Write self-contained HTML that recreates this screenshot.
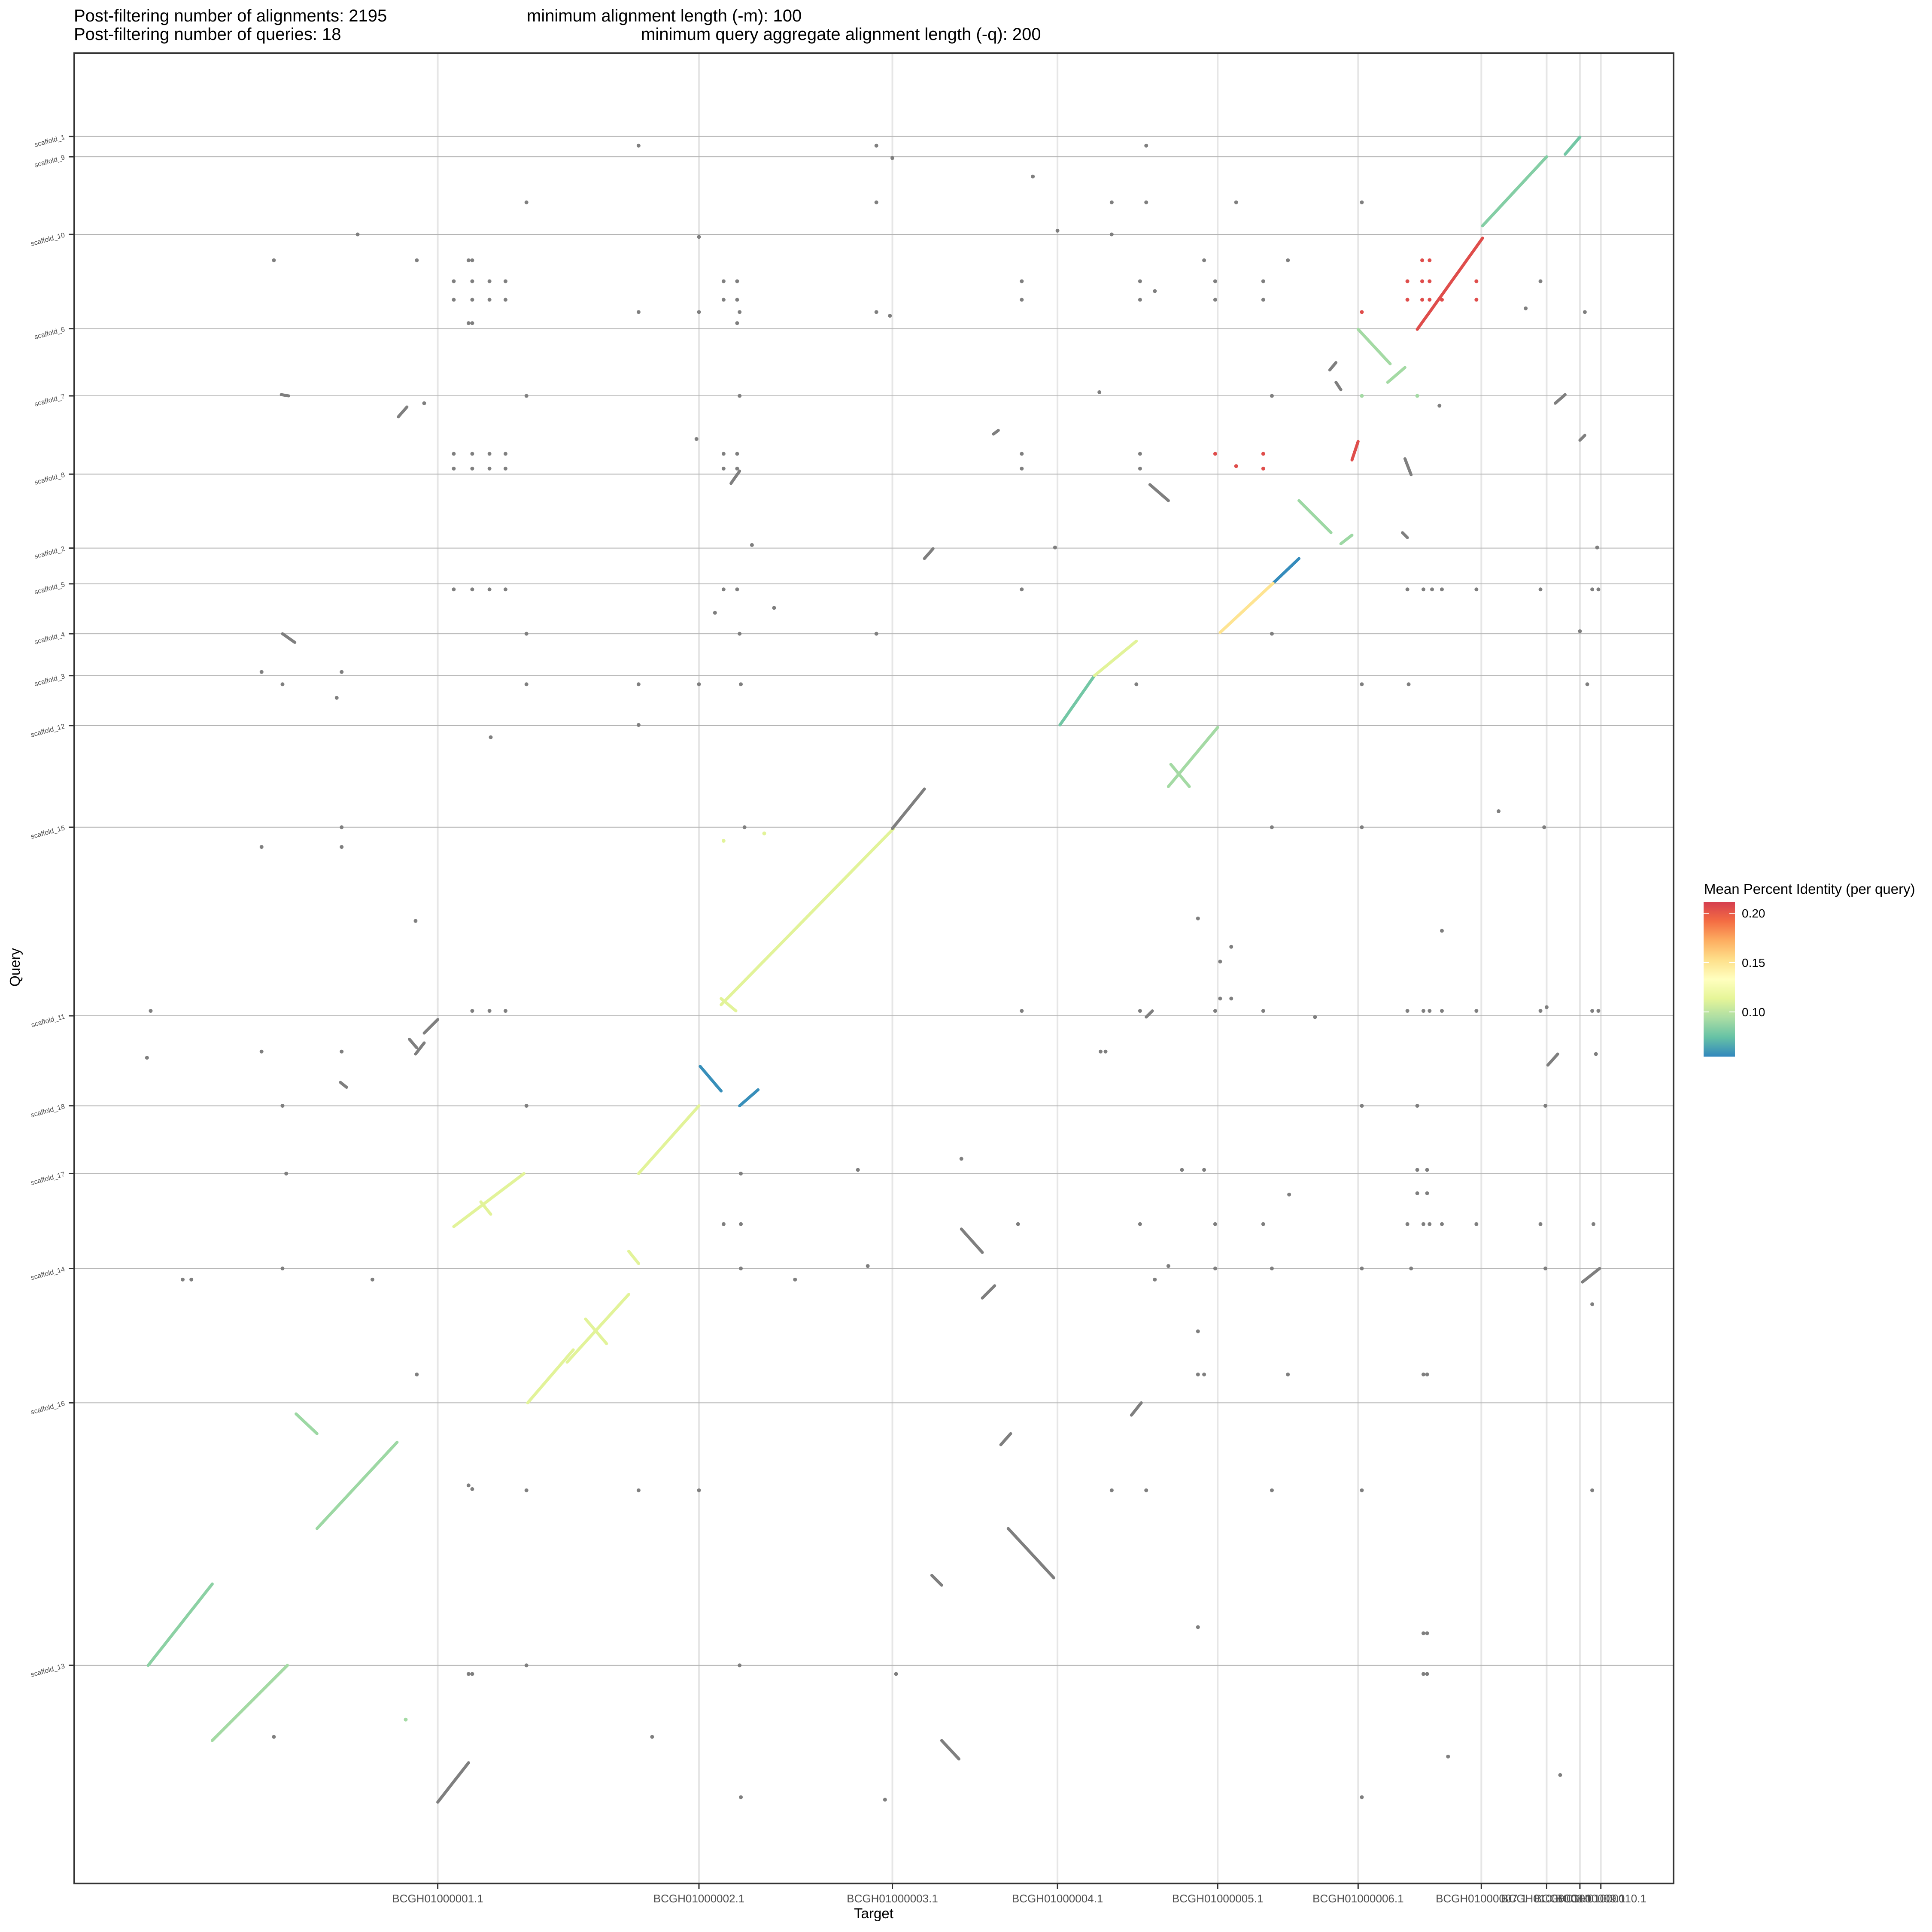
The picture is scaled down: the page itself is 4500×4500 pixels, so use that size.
<!DOCTYPE html>
<html><head><meta charset="utf-8"><style>
html,body{margin:0;padding:0;background:#fff;}
svg{display:block;font-family:"Liberation Sans",sans-serif;}
</style></head><body>
<svg id="chart" xmlns="http://www.w3.org/2000/svg" width="4500" height="4500" viewBox="0 0 4500 4500">
<rect width="4500" height="4500" fill="#fff"/>
<text x="172" y="50" font-size="40" fill="#000">Post-filtering number of alignments: 2195</text>
<text x="172" y="93" font-size="40" fill="#000">Post-filtering number of queries: 18</text>
<text x="1227" y="50" font-size="40" fill="#000">minimum alignment length (-m): 100</text>
<text x="1493" y="93" font-size="40" fill="#000">minimum query aggregate alignment length (-q): 200</text>
<g id="grid"></g>
<g id="marks"></g>
<rect x="173" y="124" width="3725" height="4263" fill="none" stroke="#333" stroke-width="4"/>
<g id="axes"></g>
<text x="2035" y="4468" font-size="33" text-anchor="middle" fill="#000">Target</text>
<text x="0" y="0" font-size="33" text-anchor="middle" fill="#000" transform="translate(46,2253) rotate(-90)">Query</text>
<g id="legend">
<defs><linearGradient id="lg" x1="0" y1="1" x2="0" y2="0">
<stop offset="0" stop-color="#3288BD"/><stop offset="0.125" stop-color="#66C2A5"/><stop offset="0.25" stop-color="#ABDDA4"/><stop offset="0.375" stop-color="#E6F598"/><stop offset="0.5" stop-color="#FFFFBF"/><stop offset="0.625" stop-color="#FEE08B"/><stop offset="0.75" stop-color="#FDAE61"/><stop offset="0.875" stop-color="#F46D43"/><stop offset="1" stop-color="#D53E4F"/>
</linearGradient></defs>
<text x="3969" y="2082" font-size="33" fill="#000">Mean Percent Identity (per query)</text>
<rect x="3968" y="2101" width="73" height="360" fill="url(#lg)"/>
<g id="legendTicks"></g>
</g>
</svg>
<script>
// ---- data ----
const xTickLabels = ["BCGH01000001.1","BCGH01000002.1","BCGH01000003.1","BCGH01000004.1","BCGH01000005.1","BCGH01000006.1","BCGH01000007.1","BCGH01000008.1","BCGH01000009.1","BCGH01000010.1"];
const xTickValues = [355,567,724,858,988,1102,1202,1255,1282,1299];
const yTickLabels = ["scaffold_1","scaffold_9","scaffold_10","scaffold_6","scaffold_7","scaffold_8","scaffold_2","scaffold_5","scaffold_4","scaffold_3","scaffold_12","scaffold_15","scaffold_11","scaffold_18","scaffold_17","scaffold_14","scaffold_16","scaffold_13"];
const yTickValues = [110.5,127,190,266.5,321,384.5,444.5,473.5,514,548,588.5,671,824,897,952,1029,1138,1351];
const legendValues = [0.10,0.15,0.20];
// segments: target start/end, query start/end, identity (null = below threshold, gray)
const segT1 = [1270,1203,1150,1102,1126,1097,1054,1088,1033,990,860,888,948,950,585,585,568,600,518,368,390,510,428,460,475,240,257,120,172,
  323,332,337,344,229,276,355,593,750,724,806,780,797,812,818,756,764,918,933,1079,1084,1256,1282,1262,1284,930,1138,1140,228];
const segQ1 = [125,183,267,267,310,373,406,441,473,513,588,548,638,620,815,810,865,897,952,995,975,1015,1138,1105,1070,1147,1240,1351,1412,
  338,843,855,838,514,878,1462,392,453,672,352,997,1053,1172,1240,1278,1412,1148,393,300,310,864,357,327,1040,825,432,372,320];
const segT2 = [1282,1255,1203,1128,1140,1102,1080,1097,1054,1033,888,922,988,965,725,597,585,615,567,425,398,518,465,510,492,257,322,172,233,
  330,338,344,355,239,281,380,600,757,750,810,797,807,820,855,764,778,926,948,1084,1088,1264,1286,1270,1298,935,1142,1145,234];
const segQ2 = [111,127,193,295,298,358,432,434,453,473,548,520,590,638,672,820,885,884,897,952,985,1025,1095,1050,1090,1163,1170,1285,1351,
  330,850,846,827,521,882,1430,382,445,640,349,1016,1043,1163,1280,1286,1427,1138,406,294,316,855,353,320,1029,820,436,385,321];
const segId = [0.078,0.083,0.205,0.092,0.092,0.205,0.09,0.09,0.056,0.15,0.078,0.112,0.092,0.092,0.112,0.112,0.057,0.057,0.112,0.112,0.112,0.112,0.112,0.112,0.112,0.09,0.09,0.085,0.092,
  null,null,null,null,null,null,null,null,null,null,null,null,null,null,null,null,null,null,null,null,null,null,null,null,null,null,null,null,null];
// short alignments below identity threshold (gray points)
const ptT = [518,711,930,724,838,427,711,902,930,1003,1105,290,567,858,902,222,338,380,383,977,1045,368,383,397,410,587,598,829,925,986,1025,1250,368,383,397,410,587,598,829,925,986,1025,937,1238,1286,518,567,600,711,722,380,383,598,427,600,892,1032,344,1168,565,368,383,397,410,587,598,829,925,368,383,397,410,587,598,829,925,610,856,1296,368,383,397,410,587,598,829,1142,1155,1162,1170,1198,1250,1292,1297,580,628,427,600,711,1032,1282,212,277,229,427,518,567,601,922,1105,1143,1288,273,398,518,1216,212,277,277,604,1032,1105,1253,337,972,1170,999,990,990,999,122,383,397,410,829,925,986,1025,1067,1142,1155,1160,1170,1198,1250,1255,1292,1297,119,212,277,893,897,1295,229,427,1105,1150,1254,232,696,601,959,977,1150,1158,780,1046,1150,1158,826,587,601,925,986,1025,1142,1155,1160,1170,1198,1250,1293,229,601,704,948,986,1032,1105,1145,1254,148,155,302,645,937,1292,972,338,972,977,1045,1155,1158,380,383,427,518,567,902,930,1032,1105,1292,972,427,380,383,600,727,1155,1158,1155,1158,222,529,1175,1266,601,718,1105];
const ptQ = [118,118,118,128,143,164,164,164,164,164,164,190,192,187,190,211,211,211,211,211,211,228,228,228,228,228,228,228,228,228,228,228,243,243,243,243,243,243,243,243,243,243,236,250,253,253,253,253,253,256,262,262,262,321,321,318,321,327,329,356,368,368,368,368,368,368,368,368,380,380,380,380,380,380,380,380,442,444,444,478,478,478,478,478,478,478,478,478,478,478,478,478,478,478,497,493,514,514,514,514,512,545,545,555,555,555,555,555,555,555,555,555,566,598,588,658,687,687,671,671,671,671,671,747,745,755,768,780,810,810,820,820,820,820,820,820,820,820,825,820,820,820,820,820,820,817,820,820,858,853,853,853,853,855,897,897,897,897,897,952,949,952,949,949,949,949,940,969,968,968,993,993,993,993,993,993,993,993,993,993,993,993,993,1029,1029,1027,1027,1029,1029,1029,1029,1029,1038,1038,1038,1038,1038,1058,1080,1115,1115,1115,1115,1115,1115,1205,1208,1209,1209,1209,1209,1209,1209,1209,1209,1320,1351,1358,1358,1351,1358,1325,1325,1358,1358,1409,1409,1425,1440,1458,1460,1458];
// short alignments coloured by query identity
const colT = [1154,1160,1142,1154,1160,1142,1154,1160,1170,1198,1198,1105,986,1003,1025,1025,1105,1150,587,620,329];
const colQ = [211,211,228,228,228,243,243,243,243,228,243,253,368,378,368,380,321,321,682,676,1395];
const colId = [0.205,0.205,0.205,0.205,0.205,0.205,0.205,0.205,0.205,0.205,0.205,0.205,0.205,0.205,0.205,0.205,0.092,0.092,0.112,0.112,0.092];

// ---- scales ----
const X0 = 173, X1 = 3898, Y0 = 124, Y1 = 4387;
const tMin = 60, tMax = 1358, qMin = 43, qMax = 1528;
function xs(t){ return X0 + (t - tMin) / (tMax - tMin) * (X1 - X0); }
function ys(q){ return Y0 + (q - qMin) / (qMax - qMin) * (Y1 - Y0); }
const idMin = 0.0548, idMax = 0.2113;
const pal = ["#3288BD","#66C2A5","#ABDDA4","#E6F598","#FFFFBF","#FEE08B","#FDAE61","#F46D43","#D53E4F"];
function hex(c){ return [parseInt(c.slice(1,3),16),parseInt(c.slice(3,5),16),parseInt(c.slice(5,7),16)]; }
function colorFor(v){
  if (v === null || v === undefined) return "#7f7f7f";
  let f = Math.max(0, Math.min(1, (v - idMin) / (idMax - idMin))) * (pal.length - 1);
  let i = Math.min(pal.length - 2, Math.floor(f)), r = f - i;
  const a = hex(pal[i]), b = hex(pal[i+1]);
  return "rgb(" + a.map((c,k) => Math.round(c + (b[k]-c)*r)).join(",") + ")";
}
function ly(v){ return 2127 + (0.20 - v) / 0.05 * 115; }

const NS = "http://www.w3.org/2000/svg";
function mk(tag, attrs, parent){ const e = document.createElementNS(NS, tag); for (const k in attrs) e.setAttribute(k, attrs[k]); parent.appendChild(e); return e; }

const grid = document.getElementById("grid");
xTickValues.forEach((v,i) => {
  const l = mk("line", {x1:xs(v), x2:xs(v), y1:Y0, y2:Y1, stroke:"#e6e6e6", "stroke-width":4}, grid);
  
  
});
yTickValues.forEach((v,i) => {
  const l = mk("line", {x1:X0, x2:X1, y1:ys(v), y2:ys(v), stroke:"#b5b5b5", "stroke-width":2}, grid);
  
  
});

const marks = document.getElementById("marks");
segT1.forEach((t,i) => {
  const l = mk("line", {x1:xs(t), y1:ys(segQ1[i]), x2:xs(segT2[i]), y2:ys(segQ2[i]), stroke:colorFor(segId[i]), "stroke-width":7, "stroke-linecap":"round"}, marks);
  
  
});
ptT.forEach((t,i) => {
  const c = mk("circle", {cx:xs(t), cy:ys(ptQ[i]), r:4.5, fill:"#7f7f7f"}, marks);
  
  
});
colT.forEach((t,i) => {
  const c = mk("circle", {cx:xs(t), cy:ys(colQ[i]), r:4.5, fill:colorFor(colId[i])}, marks);
  
  
});

const axes = document.getElementById("axes");
xTickValues.forEach((v,i) => {
  const tk = mk("line", {x1:xs(v), x2:xs(v), y1:Y1, y2:Y1+13, stroke:"#333", "stroke-width":3}, axes);
  
  
  const tx = mk("text", {x:xs(v), y:Y1+44, "font-size":26, "text-anchor":"middle", fill:"#4d4d4d"}, axes);
  tx.textContent = xTickLabels[i];
  
  
});
yTickValues.forEach((v,i) => {
  const tk = mk("line", {x1:X0-13, x2:X0, y1:ys(v), y2:ys(v), stroke:"#333", "stroke-width":3}, axes);
  
  
  const tx = mk("text", {x:0, y:0, "font-size":16, "text-anchor":"end", fill:"#4d4d4d", transform:"translate(152," + (ys(v)+6) + ") rotate(-15)"}, axes);
  tx.textContent = yTickLabels[i];
  
  
});

const lt = document.getElementById("legendTicks");
legendValues.forEach(v => {
  const a = mk("line", {x1:3968, x2:3981, y1:ly(v), y2:ly(v), stroke:"#fff", "stroke-width":2}, lt);
  
  
  const b = mk("line", {x1:4028, x2:4041, y1:ly(v), y2:ly(v), stroke:"#fff", "stroke-width":2}, lt);
  
  
  const tx = mk("text", {x:4057, y:ly(v)+10, "font-size":28, fill:"#000"}, lt);
  tx.textContent = v.toFixed(2);
  
  
});
</script>
</body></html>
